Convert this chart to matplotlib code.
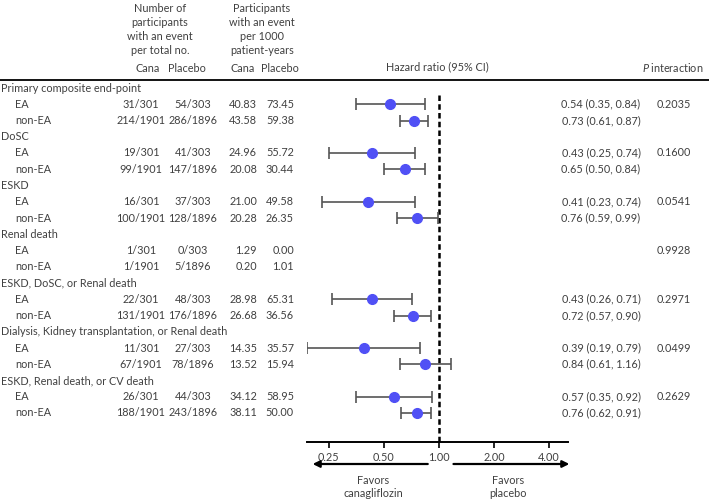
import matplotlib.pyplot as plt
import numpy as np
from matplotlib.transforms import blended_transform_factory

plt.rcParams['font.family'] = ['Lato', 'DejaVu Sans']
plt.rcParams['mathtext.fontset'] = 'custom'
plt.rcParams['mathtext.it'] = 'Lato:italic'
plt.rcParams['mathtext.rm'] = 'Lato'

# Data
outcomes = ['Primary composite end-point', 'DoSC', 'ESKD', 'Renal death',
            'ESKD, DoSC, or Renal death',
            'Dialysis, Kidney transplantation, or Renal death',
            'ESKD, Renal death, or CV death']
groups = ['EA', 'non-EA']
cana_events = ['31/301', '214/1901', '19/301', '99/1901', '16/301', '100/1901',
               '1/301', '1/1901', '22/301', '131/1901', '11/301', '67/1901',
               '26/301', '188/1901']
placebo_events = ['54/303', '286/1896', '41/303', '147/1896', '37/303', '128/1896',
                  '0/303', '5/1896', '48/303', '176/1896', '27/303', '78/1896',
                  '44/303', '243/1896']
cana_rate = [40.83, 43.58, 24.96, 20.08, 21.00, 20.28, 1.29, 0.20,
             28.98, 26.68, 14.35, 13.52, 34.12, 38.11]
placebo_rate = [73.45, 59.38, 55.72, 30.44, 49.58, 26.35, 0.00, 1.01,
                65.31, 36.56, 35.57, 15.94, 58.95, 50.00]
hr = [0.54, 0.73, 0.43, 0.65, 0.41, 0.76, np.nan, np.nan,
      0.43, 0.72, 0.39, 0.84, 0.57, 0.76]
hr_lo = [0.35, 0.61, 0.25, 0.50, 0.23, 0.59, np.nan, np.nan,
         0.26, 0.57, 0.19, 0.61, 0.35, 0.62]
hr_hi = [0.84, 0.87, 0.74, 0.84, 0.74, 0.99, np.nan, np.nan,
         0.71, 0.90, 0.79, 1.16, 0.92, 0.91]
p_interaction = ['0.2035', '0.1600', '0.0541', '0.9928', '0.2971', '0.0499', '0.2629']
ticks = [0.25, 0.5, 1, 2, 4]

W, H = 709, 500
txt = '#404040'
fs = 7.8

fig = plt.figure(figsize=(W / 100, H / 100), dpi=100)
ax = fig.add_axes([307 / W, 1 - 442 / H, (568 - 307) / W, (442 - 80) / H])

# rows: 0 = first outcome title, then EA, non-EA ...
row_px0, row_step = 88, 16.25
ax.set_xscale('log', base=2)
ax.set_xlim(0.19, 5.08)
ax.set_ylim((442 - row_px0) / row_step, (80 - row_px0) / row_step)

tr = blended_transform_factory(fig.transFigure, ax.transData)

sub_rows = []
for k, name in enumerate(outcomes):
    r0 = 3 * k
    fig.text(1 / W, r0, name, transform=tr, ha='left', va='center', fontsize=fs, color=txt)
    for j, g in enumerate(groups):
        r = r0 + 1 + j
        sub_rows.append(r)
        fig.text(15 / W, r, g, transform=tr, ha='left', va='center', fontsize=fs, color=txt)
    fig.text(674 / W, r0 + 1, p_interaction[k], transform=tr, ha='center', va='center',
             fontsize=fs, color=txt)

sub_rows = np.array(sub_rows)
hr = np.array(hr)
hr_lo = np.array(hr_lo)
hr_hi = np.array(hr_hi)

for i, r in enumerate(sub_rows):
    fig.text(141 / W, r, cana_events[i], transform=tr, ha='center', va='center', fontsize=fs, color=txt)
    fig.text(193 / W, r, placebo_events[i], transform=tr, ha='center', va='center', fontsize=fs, color=txt)
    fig.text(257 / W, r, f'{cana_rate[i]:.2f}', transform=tr, ha='right', va='center', fontsize=fs, color=txt)
    fig.text(294 / W, r, f'{placebo_rate[i]:.2f}', transform=tr, ha='right', va='center', fontsize=fs, color=txt)
    if not np.isnan(hr[i]):
        fig.text(601 / W, r, f'{hr[i]:.2f} ({hr_lo[i]:.2f}, {hr_hi[i]:.2f})', transform=tr,
                 ha='center', va='center', fontsize=fs, color=txt)

ok = ~np.isnan(hr)
ax.errorbar(hr[ok], sub_rows[ok], xerr=[hr[ok] - hr_lo[ok], hr_hi[ok] - hr[ok]],
            fmt='o', color='#5050f5', ms=7, ecolor='#555555', elinewidth=1.2,
            capsize=4, capthick=1.2, zorder=3)

# reference line
ax.plot([1, 1], [0.45, ax.get_ylim()[0]], color='black', lw=1.8,
        linestyle=(0, (2.2, 1.3)), zorder=2)

for s in ['top', 'right', 'left']:
    ax.spines[s].set_visible(False)
ax.spines['bottom'].set_linewidth(1.4)
ax.set_yticks([])
ax.set_xticks(ticks)
ax.set_xticklabels([f'{t:.2f}' for t in ticks])
ax.minorticks_off()
ax.tick_params(axis='x', length=4, width=1.2, labelsize=fs, labelcolor=txt, pad=3)
ax.patch.set_visible(False)

# favors arrows
xt = ax.get_xaxis_transform()
yarr = -(464 - 442) / (442 - 80)
ax.annotate('', xy=(0.197, yarr), xytext=(0.90, yarr), xycoords=xt, textcoords=xt,
            arrowprops=dict(arrowstyle='-|>', color='black', lw=1.6, mutation_scale=10))
ax.annotate('', xy=(5.35, yarr), xytext=(1.16, yarr), xycoords=xt, textcoords=xt,
            arrowprops=dict(arrowstyle='-|>', color='black', lw=1.6, mutation_scale=10))
fig.text(373 / W, 1 - 487 / H, 'Favors\ncanagliflozin', ha='center', va='center',
         fontsize=fs, color=txt, linespacing=1.2)
fig.text(508 / W, 1 - 487 / H, 'Favors\nplacebo', ha='center', va='center',
         fontsize=fs, color=txt, linespacing=1.2)

# header
for x, lines in [(160, ['Number of', 'participants', 'with an event', 'per total no.']),
                 (262, ['Participants', 'with an event', 'per 1000', 'patient-years'])]:
    for i, l in enumerate(lines):
        fig.text(x / W, 1 - (8 + 14 * i) / H, l, ha='center', va='center', fontsize=fs, color=txt)
for x, l in [(148, 'Cana'), (187, 'Placebo'), (243, 'Cana'), (280, 'Placebo')]:
    fig.text(x / W, 1 - 68 / H, l, ha='center', va='center', fontsize=fs, color=txt)
fig.text(437 / W, 1 - 67 / H, 'Hazard ratio (95% CI)', ha='center', va='center', fontsize=fs, color=txt)
fig.text(703 / W, 1 - 67 / H, r'$P\;\mathrm{interaction}$', ha='right', va='center', fontsize=fs, color=txt)
fig.add_artist(plt.Line2D([0, 1], [1 - 80 / H, 1 - 80 / H], transform=fig.transFigure,
                          color='black', lw=1.3))

fig.savefig('out.png', dpi=100)
